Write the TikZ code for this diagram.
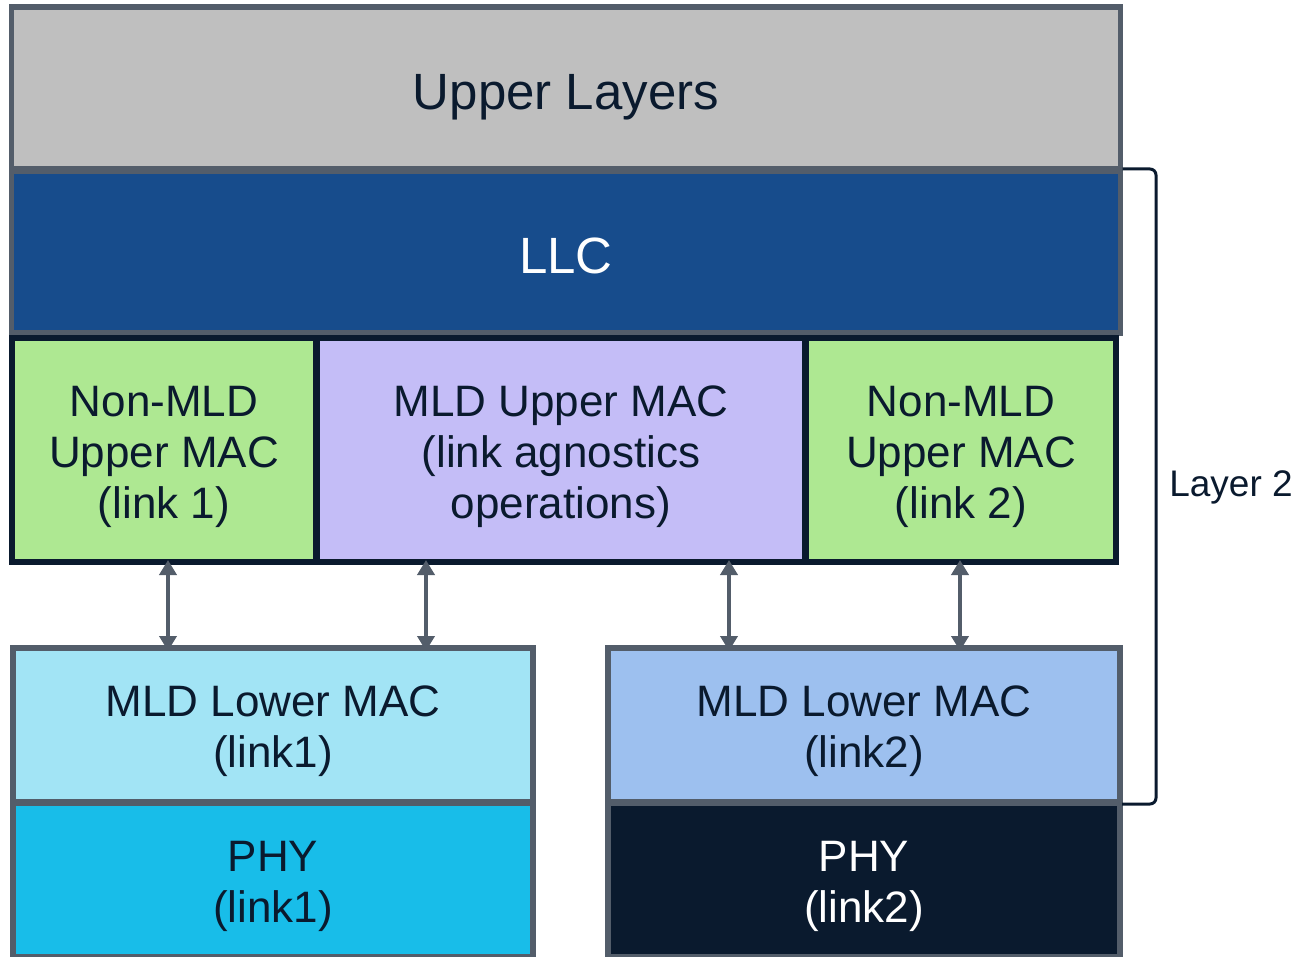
\documentclass[tikz,border=0pt]{standalone}
\usepackage{fontspec}
\setmainfont{Liberation Sans}
\usetikzlibrary{arrows.meta}
\definecolor{edgegray}{HTML}{535D6A}
\definecolor{navy}{HTML}{0A1A2E}
\definecolor{upperfill}{HTML}{BFBFBF}
\definecolor{llcfill}{HTML}{174C8C}
\definecolor{greenfill}{HTML}{AEE892}
\definecolor{purplefill}{HTML}{C4BDF7}
\definecolor{low1fill}{HTML}{A2E4F5}
\definecolor{phy1fill}{HTML}{18BDE9}
\definecolor{low2fill}{HTML}{9DC0EF}
\definecolor{phy2fill}{HTML}{0A1A2E}
\tikzset{
  layerbox/.style={draw=edgegray, line width=5.5pt, inner sep=0pt, outer sep=0pt},
  macbox/.style={layerbox, draw=navy},
  boxtext/.style={align=center, text=navy, inner sep=0pt, font=\fontsize{44}{51}\selectfont},
  bigtext/.style={boxtext, font=\fontsize{51}{58}\selectfont},
  linkarrow/.style={draw=edgegray, line width=4pt,
    {Triangle[width=17pt,length=15pt]}-{Triangle[width=17pt,length=15pt]}},
  bracketline/.style={draw=navy, line width=3pt, rounded corners=6pt},
}
\begin{document}
\begin{tikzpicture}[x=1pt,y=-1pt]
\useasboundingbox (0,0) rectangle (1296,957);
\begin{scope}
\clip (0,0) rectangle (1296,957);
\node[layerbox, fill=upperfill, minimum width=1109pt, minimum height=162pt] (upper) at (566,88) {};
\node[layerbox, fill=llcfill, minimum width=1109pt, minimum height=162pt] (llc) at (566,252) {};
\node[macbox, fill=greenfill, minimum width=304pt, minimum height=224pt] (gl) at (164,450) {};
\node[macbox, fill=purplefill, minimum width=488pt, minimum height=224pt] (mld) at (561,450) {};
\node[macbox, fill=greenfill, minimum width=310pt, minimum height=224pt] (gr) at (961,450) {};
\node[layerbox, fill=low1fill, minimum width=520pt, minimum height=154pt] (low1) at (273,725) {};
\node[layerbox, fill=phy1fill, minimum width=520pt, minimum height=154pt] (phy1) at (273,880) {};
\node[layerbox, fill=low2fill, minimum width=512pt, minimum height=154pt] (low2) at (864,725) {};
\node[layerbox, fill=phy2fill, minimum width=512pt, minimum height=154pt] (phy2) at (864,880) {};
\end{scope}
\node[bigtext] (upperT) at ([yshift=-9pt]upper.center) {Upper Layers};
\node[bigtext, text=white] (llcT) at ([yshift=-4pt]llc.center) {LLC};
\node[boxtext] (glT) at ([yshift=-7pt]gl.center) {Non-MLD\\Upper MAC\\(link 1)};
\node[boxtext] (mldT) at ([yshift=-7pt]mld.center) {MLD Upper MAC\\(link agnostics\\operations)};
\node[boxtext] (grT) at ([yshift=-7pt]gr.center) {Non-MLD\\Upper MAC\\(link 2)};
\node[boxtext] (low1T) at ([yshift=-6pt]low1.center) {MLD Lower MAC\\(link1)};
\node[boxtext] (phy1T) at ([yshift=-6pt]phy1.center) {PHY\\(link1)};
\node[boxtext] (low2T) at ([yshift=-6pt]low2.center) {MLD Lower MAC\\(link2)};
\node[boxtext, text=white] (phy2T) at ([yshift=-6pt]phy2.center) {PHY\\(link2)};
\draw[linkarrow] ([yshift=2pt]168,0 |- gl.south) -- ([yshift=-3pt]168,0 |- low1.north);
\draw[linkarrow] ([yshift=2pt]426,0 |- mld.south) -- ([yshift=-3pt]426,0 |- low1.north);
\draw[linkarrow] ([yshift=2pt]729,0 |- mld.south) -- ([yshift=-3pt]729,0 |- low2.north);
\draw[linkarrow] ([yshift=2pt]960,0 |- gr.south) -- ([yshift=-3pt]960,0 |- low2.north);
\coordinate (btop) at ([xshift=2pt,yshift=2pt]llc.north east);
\coordinate (bbot) at ([xshift=2pt,yshift=-2pt]low2.south east);
\draw[bracketline] (btop) -- (1156,0 |- btop) -- (1156,0 |- bbot) -- (bbot);
\node[text=navy, font=\fontsize{37}{44}\selectfont] (l2) at (1231,487) {Layer 2};
\end{tikzpicture}
\end{document}
